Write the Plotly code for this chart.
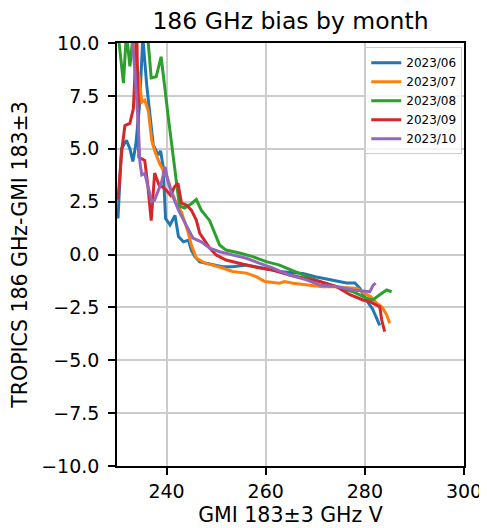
import plotly.graph_objects as go

MONTHS = ["2023/06", "2023/07", "2023/08", "2023/09", "2023/10"]
COLORS = ["#1f77b4", "#ff7f0e", "#2ca02c", "#d62728", "#9467bd"]

x_jun = [230.2, 230.9, 231.9, 232.6, 233.2, 233.8, 234.6, 235.2, 236.0, 236.6, 237.3, 238.3,
         238.8, 239.3, 239.8, 240.7, 241.7, 242.4, 243.4, 244.4, 245.0, 245.7, 246.7, 248.7,
         251.3, 253.3, 256.1, 259.4, 262.8, 265.0, 267.5, 270.0, 272.9, 276.3, 278.0, 279.0,
         280.3, 281.6, 283.0]
y_jun = [1.7, 5.0, 5.4, 5.0, 4.4, 5.2, 7.2, 10.3, 8.0, 6.6, 5.2, 4.7,
         4.9, 4.15, 1.7, 1.4, 1.85, 0.85, 0.6, 0.68, 0.2, -0.1, -0.35, -0.45,
         -0.58, -0.58, -0.5, -0.64, -0.8, -0.85, -0.9, -1.05, -1.2, -1.35, -1.35, -1.6,
         -2.15, -2.6, -3.35]

x_jul = [231.6, 232.6, 233.3, 233.9, 234.4, 235.0, 235.6, 236.3, 237.0, 237.6, 238.6, 240.2,
         241.0, 242.0, 243.0, 244.2, 245.0, 246.0, 247.7, 249.3, 251.3, 253.3, 256.1, 258.1,
         259.8, 262.8, 263.8, 265.5, 268.9, 271.5, 274.0, 276.5, 278.5, 280.0, 281.2, 282.4,
         283.5, 284.4, 285.0]
y_jul = [10.6, 10.2, 10.4, 9.0, 8.5, 7.2, 7.3, 6.8, 5.4, 4.9, 4.3, 3.6,
         3.0, 2.4, 2.0, 1.16, 0.45, -0.17, -0.4, -0.5, -0.64, -0.8, -0.88, -1.05,
         -1.28, -1.36, -1.28, -1.36, -1.44, -1.52, -1.52, -1.55, -1.6, -1.85, -2.0, -2.3,
         -2.5, -2.85, -3.25]

x_aug = [230.2, 231.3, 231.9, 232.6, 233.3, 234.5, 236.2, 236.9, 237.9, 238.9, 240.5, 242.6,
         243.6, 245.0, 246.0, 247.0, 248.0, 248.7, 250.7, 252.0, 254.7, 257.4, 260.1, 262.8,
         264.2, 267.5, 270.9, 274.3, 277.6, 280.3, 281.6, 283.0, 284.4, 285.4]
y_aug = [10.5, 8.1, 10.5, 8.9, 10.5, 10.6, 10.3, 8.35, 8.4, 9.35, 6.2, 2.3,
         2.2, 2.4, 2.6, 2.1, 1.8, 1.6, 0.45, 0.21, 0.07, -0.1, -0.34, -0.5,
         -0.64, -0.97, -1.28, -1.52, -1.76, -2.06, -2.15, -1.9, -1.68, -1.76]

x_sep = [230.2, 231.0, 231.6, 232.6, 233.3, 234.0, 234.4, 234.9, 235.6, 236.2, 236.9, 237.6,
         238.6, 239.2, 239.9, 240.8, 241.6, 242.3, 243.0, 244.0, 245.0, 246.0, 246.7, 248.7,
         250.0, 252.0, 254.1, 256.1, 258.8, 261.4, 264.8, 267.5, 270.9, 274.3, 277.0, 279.6,
         281.0, 283.0, 283.4, 284.0]
y_sep = [2.6, 5.0, 6.1, 6.2, 6.9, 10.5, 4.6, 4.55, 4.45, 3.3, 1.6, 3.85,
         3.2, 3.2, 3.05, 2.8, 3.2, 3.37, 2.43, 2.34, 2.1, 1.63, 1.0, 0.3,
         -0.02, -0.26, -0.4, -0.5, -0.64, -0.73, -0.97, -1.12, -1.28, -1.52, -1.9, -2.15,
         -2.23, -2.47, -3.1, -3.65]

x_oct = [232.7, 233.1, 233.6, 233.9, 234.3, 234.6, 235.0, 235.6, 236.3, 237.0, 237.6, 238.3,
         239.0, 239.7, 240.3, 241.0, 242.4, 243.5, 244.5, 245.3, 247.0, 248.7, 250.7, 253.4,
         256.1, 258.8, 261.5, 264.8, 268.2, 270.9, 274.3, 277.6, 281.0, 281.7, 282.2]
y_oct = [10.6, 10.1, 8.7, 7.6, 6.1, 4.4, 3.76, 3.84, 3.1, 2.5, 2.58, 3.0,
         3.44, 4.15, 3.44, 2.9, 2.1, 1.6, 1.15, 0.78, 0.6, 0.3, 0.13, -0.02,
         -0.18, -0.42, -0.64, -0.97, -1.2, -1.44, -1.52, -1.68, -1.76, -1.44, -1.36]

XS = [x_jun, x_jul, x_aug, x_sep, x_oct]
YS = [y_jun, y_jul, y_aug, y_sep, y_oct]

fig = go.Figure()
for name, col, xs, ys in zip(MONTHS, COLORS, XS, YS):
    fig.add_trace(go.Scatter(x=xs, y=ys, mode="lines", name=name,
                             line=dict(color=col, width=3)))

# matplotlib-ish box axes
axis_style = dict(showline=True, linecolor="black", linewidth=1.6, mirror=True,
                  ticks="outside", ticklen=7, tickwidth=1.6, tickcolor="black",
                  automargin=False,
                  showgrid=True, gridcolor="#cccccc", gridwidth=1.5, zeroline=False,
                  tickfont=dict(size=19, color="black"))

fig.update_xaxes(range=[230, 300], tickvals=[240, 260, 280, 300], ticklabelstandoff=0,
                 title=dict(text="GMI 183±3 GHz V", font=dict(size=20.5, color="black"), standoff=7),
                 **axis_style)
fig.update_yaxes(range=[-10, 10], tickvals=[-10, -7.5, -5, -2.5, 0, 2.5, 5, 7.5, 10],
                 tickformat=".1f", ticklabelstandoff=5,
                 title=dict(text="TROPICS 186 GHz-GMI 183±3", font=dict(size=20.5, color="black"), standoff=10),
                 **axis_style)

# page body has an 8px margin, so the figure is shifted by 8px
fig.update_layout(
    width=487, height=528,
    font=dict(family="DejaVu Sans", color="black"),
    title=dict(text="186 GHz bias by month", font=dict(size=23.5, color="black"),
               x=282.5 / 487, xanchor="center", y=1 - 13 / 528, yanchor="middle"),
    plot_bgcolor="white", paper_bgcolor="white",
    margin=dict(l=109, r=31, t=35, b=70),
    showlegend=True,
    legend=dict(x=0.995, y=0.99, xanchor="right", yanchor="top",
                font=dict(size=12, color="black"), bgcolor="rgba(255,255,255,0.8)",
                bordercolor="#cccccc", borderwidth=1, itemwidth=30, tracegroupgap=0),
)

fig.write_html("out.html")
